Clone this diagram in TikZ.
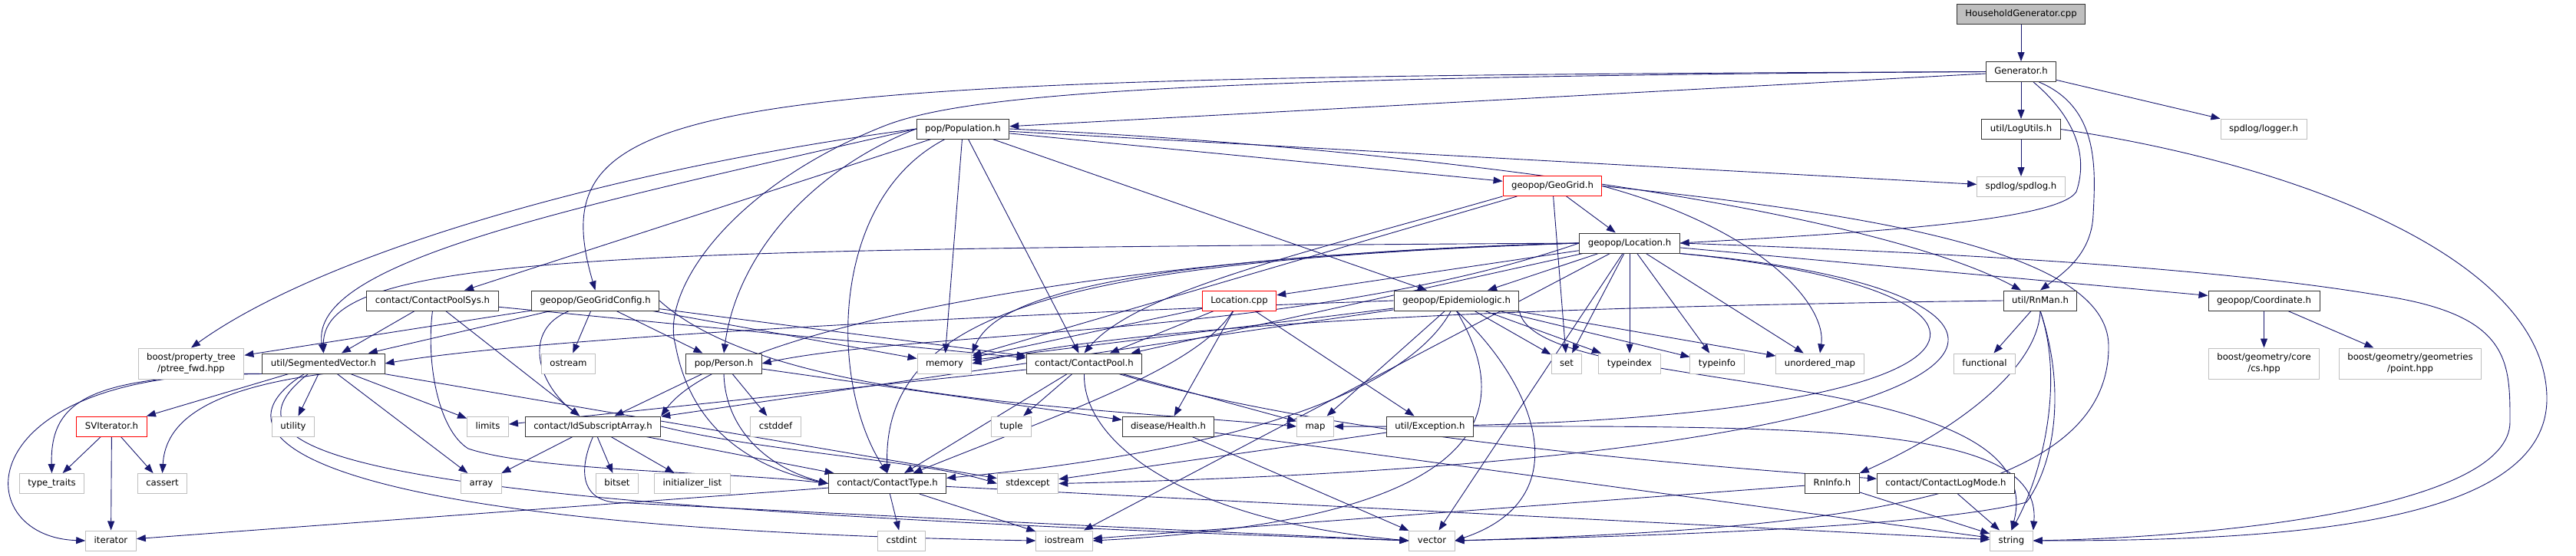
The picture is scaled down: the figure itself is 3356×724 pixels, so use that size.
\documentclass[tikz,border=0pt]{standalone}
\usepackage{fontspec}
\setmainfont{DejaVu Sans}
\usetikzlibrary{positioning, arrows.meta, backgrounds}
\usepackage{xcolor}

\definecolor{edgeblue}{HTML}{191970}
\definecolor{sysgray}{HTML}{BFBFBF}
\definecolor{rootgray}{HTML}{BFBFBF}
\definecolor{boxline}{HTML}{333333}
\newcommand{\graphfont}{\fontsize{11.7}{15}\selectfont}

\begin{document}
\begin{tikzpicture}[
    x=1pt, y=-1pt,
    file/.style={draw=boxline, line width=1pt, fill=white, minimum height=26pt, inner xsep=11pt, inner ysep=0pt, text height=9pt, text depth=3pt, font=\graphfont},
    sysfile/.style={file, draw=sysgray},
    redfile/.style={file, draw=red},
    rootfile/.style={file, fill=rootgray},
    twoline/.style={align=center, text height=, text depth=, minimum height=40pt},
    dep/.style={-{Triangle[length=12pt, width=9pt]}, draw=edgeblue, line width=0.9pt}
]

\useasboundingbox (0,0) rectangle (3356,724);

% Nodes
\node[rootfile] (root) at (2633,18.5) {HouseholdGenerator.cpp};
\node[file, below=48pt of root] (gen) {Generator.h};
\node[file, below=48pt of gen] (logutils) {util/LogUtils.h};
\node[sysfile, below=48pt of logutils] (spdlog) {spdlog/spdlog.h};
\node[sysfile] (logger) at (2949,168) {spdlog/logger.h};
\node[file] (population) at (1254.5,168) {pop/Population.h};
\node[redfile] (geogrid) at (2022.5,242.5) {geopop/GeoGrid.h};
\node[file] (location) at (2123,317) {geopop/Location.h};

\node[file] (cpsys) at (563.5,392) {contact/ContactPoolSys.h};
\node[file] (ggconfig) at (775.5,392) {geopop/GeoGridConfig.h};
\node[redfile] (loccpp) at (1614.5,392) {Location.cpp};
\node[file] (epi) at (1897.5,392) {geopop/Epidemiologic.h};
\node[file] (rnman) at (2658,392) {util/RnMan.h};
\node[file] (coord) at (2949.5,392) {geopop/Coordinate.h};

\node[sysfile, twoline] (ptree) at (249,474) {boost/property\_tree\\/ptree\_fwd.hpp};
\node[file] (segvec) at (421.5,474) {util/SegmentedVector.h};
\node[sysfile] (ostream) at (740.5,474) {ostream};
\node[file] (person) at (943,474) {pop/Person.h};
\node[sysfile] (memory) at (1230.5,474) {memory};
\node[file] (cpool) at (1412.5,474) {contact/ContactPool.h};
\node[sysfile] (set) at (2041,474) {set};
\node[sysfile] (typeindex) at (2123,474) {typeindex};
\node[sysfile] (typeinfo) at (2237,474) {typeinfo};
\node[sysfile] (umap) at (2371,474) {unordered\_map};
\node[sysfile] (functional) at (2585.5,474) {functional};
\node[sysfile, twoline] (cs) at (2949.5,474) {boost/geometry/core\\/cs.hpp};
\node[sysfile, twoline] (point) at (3140,474) {boost/geometry/geometries\\/point.hpp};

\node[redfile] (sviter) at (145.5,556) {SVIterator.h};
\node[sysfile] (utility) at (382,556) {utility};
\node[sysfile] (limits) at (635.5,556) {limits};
\node[file] (idsub) at (772.5,556) {contact/IdSubscriptArray.h};
\node[sysfile] (cstddef) at (1010.5,556) {cstddef};
\node[sysfile] (tuple) at (1317.5,556) {tuple};
\node[file] (health) at (1522,556) {disease/Health.h};
\node[sysfile] (map) at (1713.5,556) {map};
\node[file] (exception) at (1863,556) {util/Exception.h};

\node[sysfile] (typetraits) at (67.5,630.5) {type\_traits};
\node[sysfile] (cassert) at (211.5,630.5) {cassert};
\node[sysfile] (array) at (627,630.5) {array};
\node[sysfile] (bitset) at (804,630.5) {bitset};
\node[sysfile] (initlist) at (902,630.5) {initializer\_list};
\node[file] (ctype) at (1156,630.5) {contact/ContactType.h};
\node[sysfile] (stdexcept) at (1339,630.5) {stdexcept};
\node[file] (rninfo) at (2387,630.5) {RnInfo.h};
\node[file] (logmode) at (2535,630.5) {contact/ContactLogMode.h};

\node[sysfile] (iterator) at (144.5,705) {iterator};
\node[sysfile] (cstdint) at (1174.5,705) {cstdint};
\node[sysfile] (iostream) at (1386.5,705) {iostream};
\node[sysfile] (vector) at (1865.5,705) {vector};
\node[sysfile] (string) at (2620.5,705) {string};

\begin{scope}[on background layer]
\fill[white] (0,0) rectangle (3356,724);

% Edges
\draw[dep] (root) -- (gen);
\draw[dep] (gen) -- (logutils);
\draw[dep] (gen) -- (logger);
\draw[dep] (gen) -- (population);
\draw[dep] (gen.west) .. controls (900,100) and (700,120) .. (ggconfig.north);
\draw[dep] (gen.-40) .. controls (2700,150) and (2722,200) .. (2705,250) .. controls (2680,290) and (2400,305) .. (location.east);
\draw[dep] (gen.-30) .. controls (2735,140) and (2730,220) .. (2727,280) .. controls (2725,330) and (2690,355) .. (rnman.north);
\draw[dep] (gen.west) .. controls (1500,100) and (1250,125) .. (1150,165) .. controls (950,245) and (860,380) .. (880,450) .. controls (900,560) and (980,610) .. (ctype.west);

\draw[dep] (logutils) -- (spdlog);
\draw[dep] (logutils.east) .. controls (3000,215) and (3318,340) .. (3318,520) .. controls (3318,690) and (2950,705) .. (string.east);

\draw[dep] (population.west) .. controls (800,220) and (420,330) .. (ptree.north);
\draw[dep] (population.west) .. controls (750,270) and (400,340) .. (segvec.north);
\draw[dep] (population) -- (cpsys);
\draw[dep] (population.west) .. controls (1060,220) and (960,330) .. (person.north);
\draw[dep] (population.-150) .. controls (1080,260) and (1080,500) .. (ctype.north);
\draw[dep] (population) -- (memory);
\draw[dep] (population) -- (cpool);
\draw[dep] (population) -- (epi);
\draw[dep] (population) -- (geogrid);
\draw[dep] (population) -- (spdlog);
\draw[dep] (population.east) .. controls (1900,195) and (2450,280) .. (rnman);

\draw[dep] (geogrid) -- (location);
\draw[dep] (geogrid) -- (set);
\draw[dep] (geogrid) -- (memory);
\draw[dep] (geogrid.south west) .. controls (1700,330) and (1480,380) .. (cpool.north);
\draw[dep] (geogrid.east) .. controls (2300,300) and (2380,400) .. (umap.north);
\draw[dep] (geogrid.east) .. controls (2450,280) and (2745,330) .. (2747,450) .. controls (2750,650) and (2400,690) .. (vector.east);

\draw[dep] (location.west) .. controls (800,325) and (420,330) .. (segvec.north);
\draw[dep] (location.west) .. controls (1500,330) and (950,420) .. (idsub.north east);
\draw[dep] (location.west) .. controls (1500,335) and (1300,380) .. (memory.north east);
\draw[dep] (location.west) .. controls (1400,340) and (1150,400) .. (ctype.north);
\draw[dep] (location) -- (cpool);
\draw[dep] (location) -- (loccpp);
\draw[dep] (location) -- (epi);
\draw[dep] (location.west) .. controls (1700,440) and (1200,430) .. (person.east);
\draw[dep] (location) -- (set);
\draw[dep] (location) -- (typeindex);
\draw[dep] (location) -- (typeinfo);
\draw[dep] (location) -- (umap);
\draw[dep] (location) -- (coord);
\draw[dep] (location) -- (iostream);
\draw[dep] (location) -- (vector);
\draw[dep] (location.south east) .. controls (2700,380) and (2650,560) .. (map.east);
\draw[dep] (location.south east) .. controls (2760,380) and (2720,600) .. (stdexcept.east);
\draw[dep] (location.east) .. controls (2700,335) and (2950,360) .. (3100,385) .. controls (3270,410) and (3270,470) .. (3270,550) .. controls (3270,660) and (2900,700) .. (string.east);

\draw[dep] (loccpp) -- (memory);
\draw[dep] (loccpp) -- (cpool);
\draw[dep] (loccpp) .. controls (1560,480) and (1380,540) .. (ctype);
\draw[dep] (loccpp) -- (health);
\draw[dep] (loccpp) -- (exception);

\draw[dep] (epi.west) .. controls (1300,410) and (700,440) .. (segvec.east);
\draw[dep] (epi) -- (memory);
\draw[dep] (epi) -- (idsub);
\draw[dep] (epi) .. controls (1850,480) and (1700,580) .. (ctype);
\draw[dep] (epi) -- (map);
\draw[dep] (epi.south) .. controls (1990,560) and (1900,680) .. (iostream.east);
\draw[dep] (epi.south) .. controls (2000,500) and (2060,650) .. (vector.east);
\draw[dep] (epi.south east) .. controls (2000,520) and (2680,470) .. (string.north);
\draw[dep] (epi) -- (set);
\draw[dep] (epi) -- (typeindex);
\draw[dep] (epi) -- (typeinfo);
\draw[dep] (epi) -- (umap);

\draw[dep] (ggconfig) -- (ptree);
\draw[dep] (ggconfig) -- (segvec);
\draw[dep] (ggconfig) .. controls (680,430) and (700,500) .. (idsub);
\draw[dep] (ggconfig) -- (ostream);
\draw[dep] (ggconfig) -- (person);
\draw[dep] (ggconfig) -- (memory);
\draw[dep] (ggconfig) -- (cpool);
\draw[dep] (ggconfig.east) .. controls (1000,520) and (1400,530) .. (map.west);

\draw[dep] (cpsys) -- (segvec);
\draw[dep] (cpsys) -- (idsub);
\draw[dep] (cpsys) -- (cpool);
\draw[dep] (cpsys.south) .. controls (555,470) and (570,560) .. (610,585) .. controls (700,615) and (950,615) .. (ctype.west);

\draw[dep] (person) -- (idsub);
\draw[dep] (person) -- (cstddef);
\draw[dep] (person.south) .. controls (945,560) and (1000,610) .. (ctype.west);
\draw[dep] (person) -- (health);

\draw[dep] (cpool) -- (limits);
\draw[dep] (cpool) -- (ctype);
\draw[dep] (cpool) -- (tuple);
\draw[dep] (cpool.south) .. controls (1410,580) and (1550,680) .. (vector.west);
\draw[dep] (cpool) -- (map);
\draw[dep] (cpool) .. controls (1700,560) and (2100,600) .. (logmode);

\draw[dep] (health) -- (vector);
\draw[dep] (health) -- (string);

\draw[dep] (idsub) -- (array);
\draw[dep] (idsub) -- (bitset);
\draw[dep] (idsub) -- (initlist);
\draw[dep] (idsub.east) .. controls (1000,590) and (1200,600) .. (stdexcept.west);
\draw[dep] (idsub) -- (ctype);
\draw[dep] (idsub.south) .. controls (755,610) and (755,650) .. (800,655) .. controls (1000,665) and (1500,690) .. (vector.west);

\draw[dep] (segvec) -- (sviter);
\draw[dep] (segvec.south west) .. controls (120,490) and (65,520) .. (typetraits.north);
\draw[dep] (segvec.south west) .. controls (-45,480) and (-45,700) .. (iterator.west);
\draw[dep] (segvec.south) .. controls (250,510) and (215,560) .. (cassert.north);
\draw[dep] (segvec) -- (utility);
\draw[dep] (segvec) -- (limits);
\draw[dep] (segvec) -- (array);
\draw[dep] (segvec) -- (stdexcept);
\draw[dep] ([xshift=-25pt]segvec.south) .. controls (250,580) and (450,690) .. (iostream.west);
\draw[dep] ([xshift=-20pt]segvec.south) .. controls (260,600) and (500,660) .. (vector.west);

\draw[dep] (sviter) -- (typetraits);
\draw[dep] (sviter) -- (iterator);
\draw[dep] (sviter) -- (cassert);

\draw[dep] (ctype) -- (cstdint);
\draw[dep] (ctype) -- (iostream);
\draw[dep] (ctype) -- (string);
\draw[dep] (ctype) -- (iterator);

\draw[dep] (rnman) -- (functional);
\draw[dep] (rnman.south) .. controls (2655,480) and (2550,560) .. (rninfo.north east);
\draw[dep] (rnman.south) .. controls (2690,500) and (2660,620) .. (string.north);
\draw[dep] (rnman.south) .. controls (2690,500) and (2680,600) .. (2640,655) .. controls (2500,690) and (2100,700) .. (vector.east);
\draw[dep] (rnman.west) .. controls (2000,400) and (1500,420) .. (memory.east);

\draw[dep] (rninfo) -- (string);
\draw[dep] (rninfo) -- (iostream);
\draw[dep] (logmode) -- (string);
\draw[dep] (exception.east) .. controls (2400,555) and (2660,560) .. (string.north east);
\draw[dep] (exception) -- (stdexcept);
\draw[dep] (coord) -- (cs);
\draw[dep] (coord) -- (point);
\end{scope}

\end{tikzpicture}
\end{document}
